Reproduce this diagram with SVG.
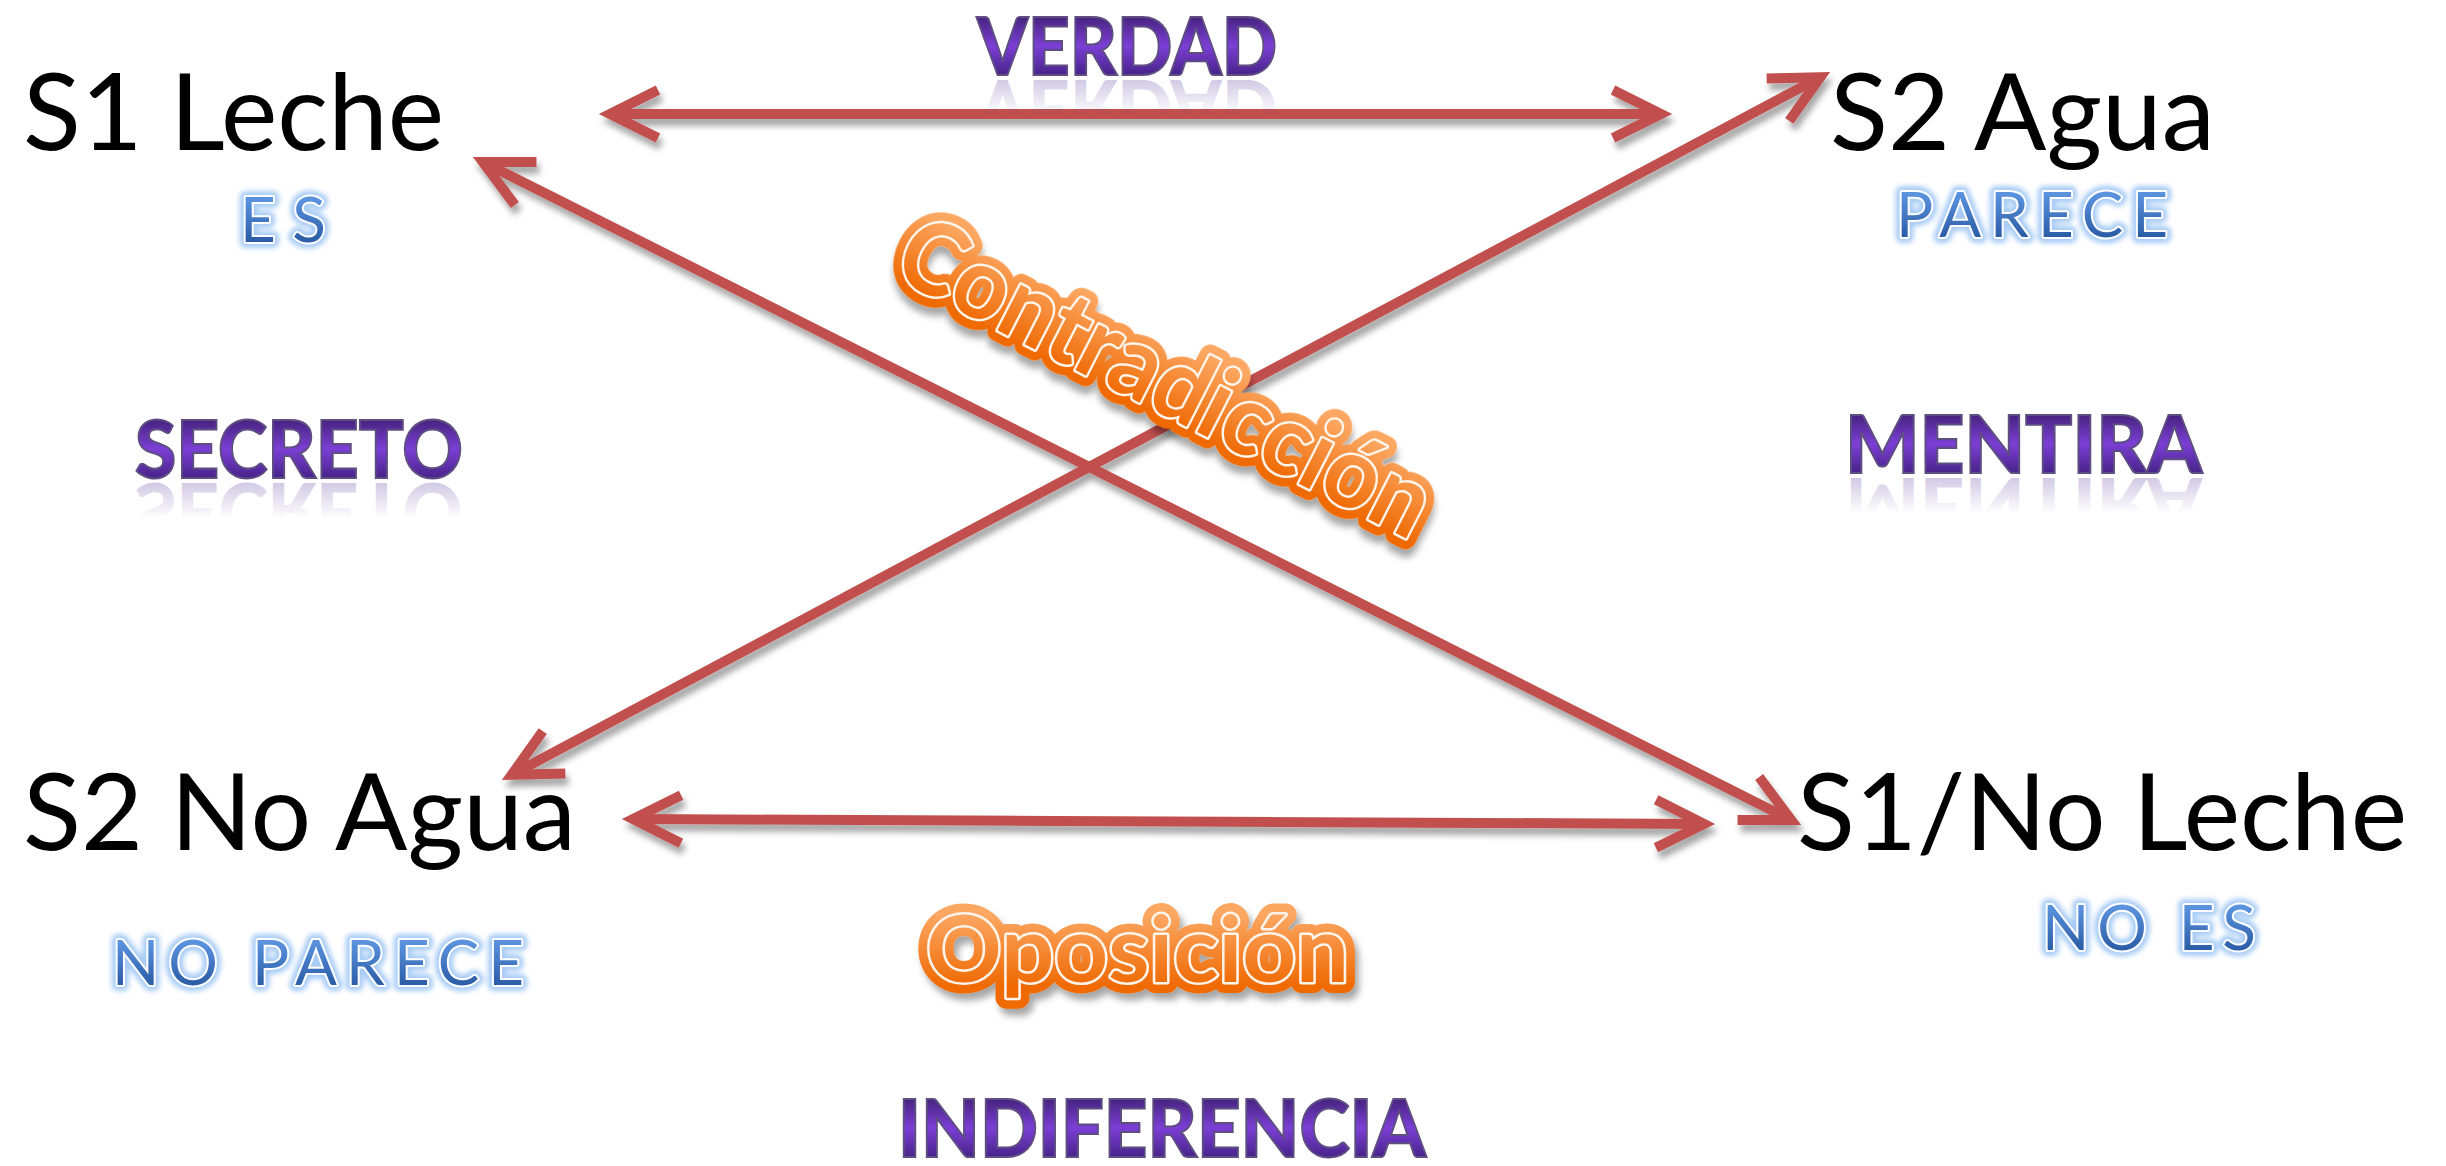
<svg xmlns="http://www.w3.org/2000/svg" xmlns:xlink="http://www.w3.org/1999/xlink" width="2446" height="1166" viewBox="0 0 2446 1166">
<style>
.lbl{font-family:Lato,"Liberation Sans",sans-serif;font-size:107px;fill:#000;}
.blue{font-family:Lato,"Liberation Sans",sans-serif;font-size:62px;}
.blueGlow{fill:none;stroke:#a8ccf6;stroke-width:12px;stroke-linejoin:round;filter:url(#soft);}
.blueEdge{fill:none;stroke:#fff;stroke-width:4px;stroke-linejoin:round;}
.blueFill{fill:url(#blueGrad);}
.purple{font-family:Lato,"Liberation Sans",sans-serif;font-weight:900;font-size:80px;fill:url(#purpleGrad);stroke:#5e4e82;stroke-width:2px;}
.refl{font-family:Lato,"Liberation Sans",sans-serif;font-weight:900;font-size:80px;fill:url(#reflGrad);stroke:none;}
.orange{font-family:Lato,"Liberation Sans",sans-serif;font-weight:700;}
.oOuter{fill:url(#orangeGrad);stroke:url(#orangeGrad);stroke-width:22px;stroke-linejoin:round;}
.oEdge{fill:none;stroke:#fff4ea;stroke-width:5px;stroke-linejoin:round;}
.oFill{fill:url(#orangeGrad);}
.conn{fill:none;stroke:#C0504D;stroke-width:10px;marker-start:url(#chev);marker-end:url(#chev);}
</style>
<defs>
<linearGradient id="purpleGrad" x1="0" y1="0" x2="0" y2="1">
<stop offset="0.22" stop-color="#47237f"/>
<stop offset="0.52" stop-color="#7c3fd6"/>
<stop offset="0.82" stop-color="#48238a"/>
</linearGradient>
<linearGradient id="reflGrad" x1="0" y1="0" x2="0" y2="1">
<stop offset="0.45" stop-color="#6a4fa8" stop-opacity="0"/>
<stop offset="0.82" stop-color="#6a4fa8" stop-opacity="0.3"/>
</linearGradient>
<linearGradient id="orangeGrad" x1="0" y1="0" x2="0" y2="1">
<stop offset="0.2" stop-color="#fca864"/>
<stop offset="0.85" stop-color="#ef6a04"/>
</linearGradient>
<linearGradient id="blueGrad" x1="0" y1="0" x2="0" y2="1">
<stop offset="0.25" stop-color="#5a92de"/>
<stop offset="0.8" stop-color="#2d5ea8"/>
</linearGradient>
<filter id="soft" x="-10%" y="-30%" width="120%" height="160%">
<feGaussianBlur stdDeviation="2.5"/>
</filter>
<filter id="shadow" x="-5%" y="-20%" width="110%" height="140%">
<feDropShadow dx="3" dy="7" stdDeviation="3" flood-color="#000" flood-opacity="0.35"/>
</filter>
<filter id="oShadow" x="-10%" y="-20%" width="120%" height="150%">
<feDropShadow dx="4" dy="7" stdDeviation="3.5" flood-color="#000" flood-opacity="0.35"/>
</filter>
<marker id="chev" markerUnits="userSpaceOnUse" markerWidth="80" markerHeight="80" refX="0" refY="0" viewBox="-70 -40 80 80" orient="auto-start-reverse" overflow="visible">
<path d="M -48,-24 L 0,0 L -48,24" fill="none" stroke="#C0504D" stroke-width="10" stroke-linejoin="miter" stroke-miterlimit="10"/>
</marker>
</defs>
<rect width="2446" height="1166" fill="#fff"/>

<g id="connectors" filter="url(#shadow)">
<path id="c-verdad" class="conn" d="M 610,114 L 1661,114"/>
<path id="c-oposicion" class="conn" d="M 633,819 L 1704,824"/>
<path id="c-diag-agua" class="conn" d="M 511.7,774.8 L 1820.3,77.2"/>
<path id="c-diag-leche" class="conn" d="M 482.8,161.9 L 1791.2,820.1"/>
</g>

<g id="n-s1-leche"><text class="lbl" x="23" y="150" textLength="421" lengthAdjust="spacingAndGlyphs">S1 Leche</text></g>
<g id="n-s2-agua"><text class="lbl" x="1830" y="150" textLength="385" lengthAdjust="spacingAndGlyphs">S2 Agua</text></g>
<g id="n-s2-no-agua"><text class="lbl" x="23" y="850" textLength="553" lengthAdjust="spacingAndGlyphs">S2 No Agua</text></g>
<g id="n-s1-no-leche"><text class="lbl" x="1797" y="850" textLength="610" lengthAdjust="spacingAndGlyphs">S1/No Leche</text></g>

<g id="n-es" class="blue">
<text class="blueGlow" x="240" y="242" textLength="86" lengthAdjust="spacing">ES</text>
<text class="blueEdge" x="240" y="242" textLength="86" lengthAdjust="spacing">ES</text>
<text class="blueFill" x="240" y="242" textLength="86" lengthAdjust="spacing">ES</text>
</g>
<g id="n-parece" class="blue">
<text class="blueGlow" x="1896" y="237" textLength="272" lengthAdjust="spacing">PARECE</text>
<text class="blueEdge" x="1896" y="237" textLength="272" lengthAdjust="spacing">PARECE</text>
<text class="blueFill" x="1896" y="237" textLength="272" lengthAdjust="spacing">PARECE</text>
</g>
<g id="n-no-parece" class="blue">
<text class="blueGlow" x="112" y="985" textLength="412" lengthAdjust="spacing">NO PARECE</text>
<text class="blueEdge" x="112" y="985" textLength="412" lengthAdjust="spacing">NO PARECE</text>
<text class="blueFill" x="112" y="985" textLength="412" lengthAdjust="spacing">NO PARECE</text>
</g>
<g id="n-no-es" class="blue">
<text class="blueGlow" x="2042" y="950" textLength="214" lengthAdjust="spacing">NO ES</text>
<text class="blueEdge" x="2042" y="950" textLength="214" lengthAdjust="spacing">NO ES</text>
<text class="blueFill" x="2042" y="950" textLength="214" lengthAdjust="spacing">NO ES</text>
</g>

<g id="n-verdad">
<use class="refl" xlink:href="#t-verdad" href="#t-verdad" transform="translate(0,155) scale(1,-1)"/>
<g class="purple"><text id="t-verdad" x="977" y="75" textLength="300" lengthAdjust="spacingAndGlyphs">VERDAD</text></g>
</g>
<g id="n-secreto">
<use class="refl" xlink:href="#t-secreto" href="#t-secreto" transform="translate(0,961) scale(1,-1)"/>
<g class="purple"><text id="t-secreto" x="135" y="478" textLength="328" lengthAdjust="spacingAndGlyphs">SECRETO</text></g>
</g>
<g id="n-mentira">
<use class="refl" xlink:href="#t-mentira" href="#t-mentira" transform="translate(0,951) scale(1,-1)"/>
<g class="purple"><text id="t-mentira" x="1845" y="473" textLength="357" lengthAdjust="spacingAndGlyphs">MENTIRA</text></g>
</g>
<g id="n-indiferencia">
<g class="purple"><text x="898" y="1157" textLength="528" lengthAdjust="spacingAndGlyphs">INDIFERENCIA</text></g>
</g>

<g id="n-oposicion" class="orange" font-size="92">
<text class="oOuter" filter="url(#oShadow)" x="926" y="982" textLength="423" lengthAdjust="spacingAndGlyphs">Oposición</text>
<text class="oEdge" x="926" y="982" textLength="423" lengthAdjust="spacingAndGlyphs">Oposición</text>
<text class="oFill" x="926" y="982" textLength="423" lengthAdjust="spacingAndGlyphs">Oposición</text>
</g>
<g id="n-contradiccion" class="orange" font-size="100" transform="translate(1150,408) rotate(27)">
<text class="oOuter" filter="url(#oShadow)" x="0" y="0" text-anchor="middle" textLength="585" lengthAdjust="spacingAndGlyphs">Contradicción</text>
<text class="oEdge" x="0" y="0" text-anchor="middle" textLength="585" lengthAdjust="spacingAndGlyphs">Contradicción</text>
<text class="oFill" x="0" y="0" text-anchor="middle" textLength="585" lengthAdjust="spacingAndGlyphs">Contradicción</text>
</g>
</svg>
